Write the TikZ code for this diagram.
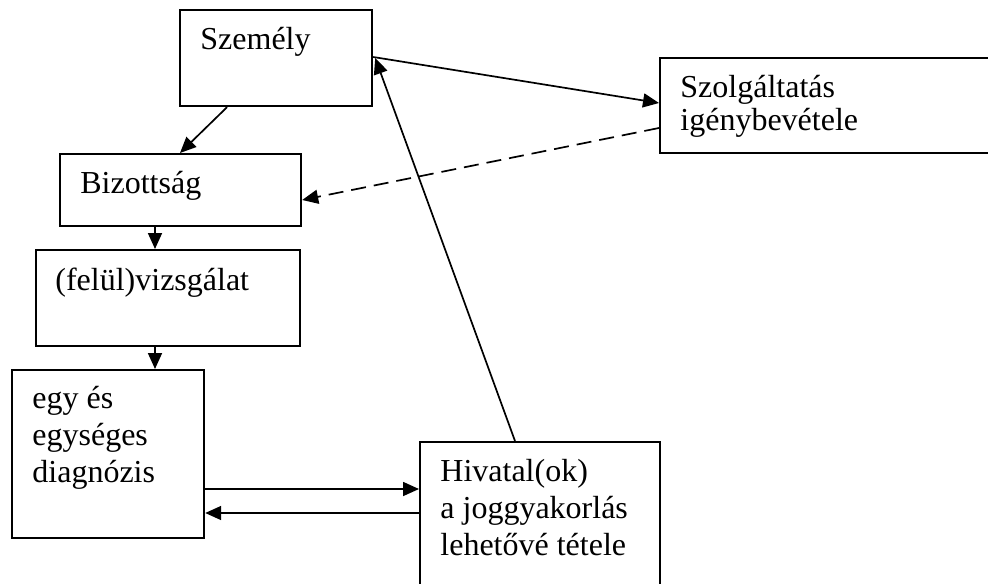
\documentclass[tikz,border=0pt]{standalone}
\usepackage{fontspec}
\setmainfont{Liberation Serif}
\usetikzlibrary{arrows.meta,calc}

\tikzset{
  box/.style={draw, line width=1.1pt, anchor=north west, inner sep=0pt},
  lab/.style={anchor=base west, inner sep=0pt, align=left,
    font=\fontsize{16pt}{18.5pt}\selectfont},
  conn/.style={line width=0.85pt, -{Triangle[length=8pt,width=7pt]}}
}

\begin{document}
\begin{tikzpicture}[x=0.5pt, y=-0.5pt]
  \path[fill=white, use as bounding box] (0,0) rectangle (988,583);
  \clip (0,0) rectangle (988,583);

  \node (1) [box, minimum width=96pt, minimum height=48pt] at (179,9) {};
  \node (2) [box, minimum width=172pt, minimum height=47.5pt] at (659,57) {};
  \node (3) [box, minimum width=120.5pt, minimum height=36pt] at (59,153) {};
  \node (4) [box, minimum width=132pt, minimum height=48pt] at (35,249) {};
  \node (5) [box, minimum width=96pt, minimum height=84pt] at (11,369) {};
  \node (6) [box, minimum width=120pt, minimum height=82pt] at (419,441) {};

  % base west of a multi-line text is its last line
  \node (t1) [lab] at ($(1.north west)+(21,41)$) {Személy};
  \node (t2) [lab, font=\fontsize{16pt}{16.5pt}\selectfont]
    at ($(2.north west)+(21,73)$) {Szolgáltatás\\igénybevétele};
  \node (t3) [lab] at ($(3.north west)+(21,40)$) {Bizottság};
  \node (t4) [lab] at ($(4.north west)+(20,41)$) {(felül)vizsgálat};
  \node (t5) [lab] at ($(5.north west)+(21,113)$) {egy és\\egységes\\diagnózis};
  \node (t6) [lab] at ($(6.north west)+(21,114)$) {Hivatal(ok)\\a joggyakorlás\\lehetővé tétele};

  \path[conn]
  ($(1.south west)+(48,0)$) edge ($(3.north west)+(121,0)$)
  ($(1.north east)+(0,48)$) edge ($(2.north west)+(0,46)$)
  ($(2.north west)+(0,71)$) edge[dash pattern=on 7.5pt off 4pt] ($(3.north east)+(0,47)$)
  ($(3.south west)+(96,0)$) edge ($(4.north west)+(120,0)$)
  ($(4.south west)+(120,0)$) edge ($(5.north west)+(144,0)$)
  ($(5.north east)+(0,120)$) edge ($(6.north west)+(0,48)$)
  ($(6.north west)+(0,72)$) edge ($(5.north east)+(0,144)$)
  ($(6.north west)+(96,0)$) edge ($(1.north east)+(2,49)$);
\end{tikzpicture}
\end{document}
